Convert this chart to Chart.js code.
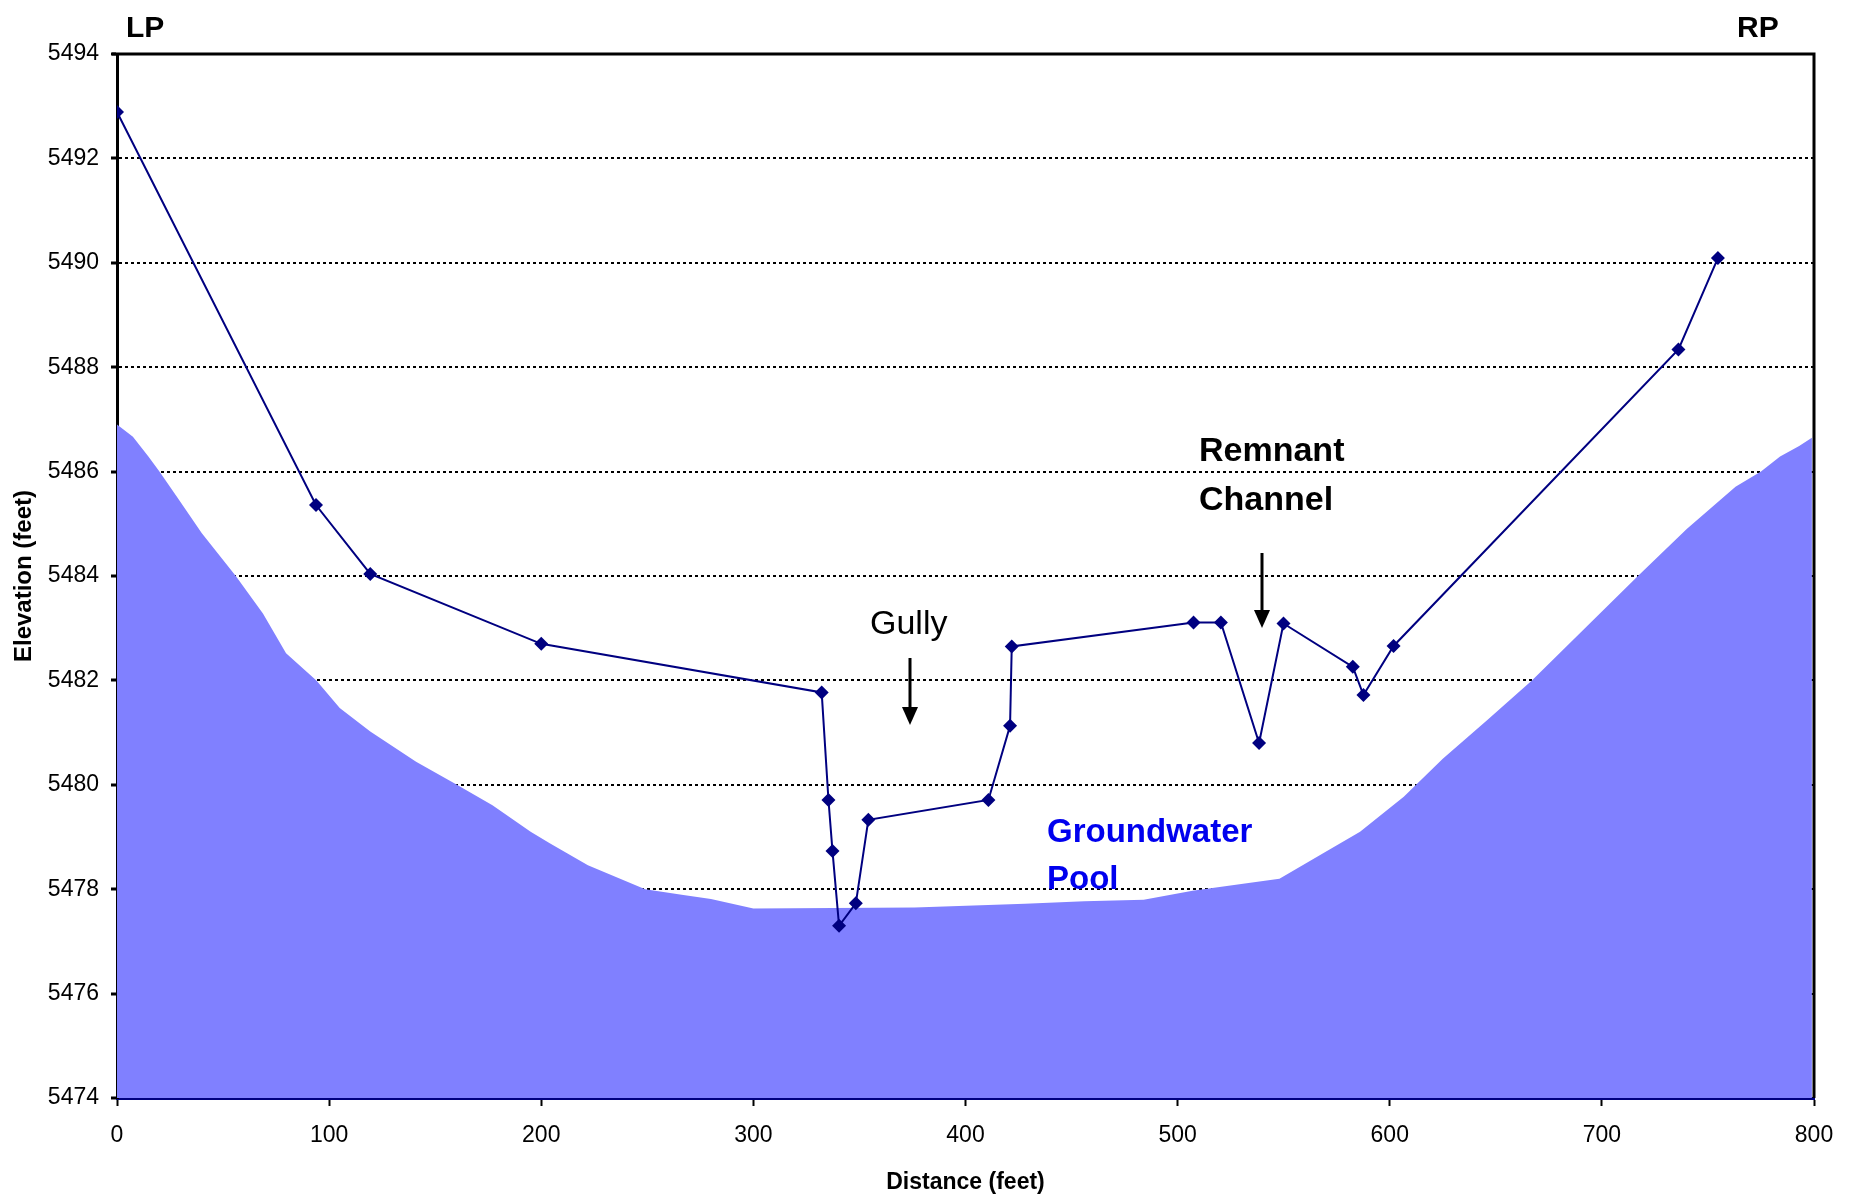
<!DOCTYPE html>
<html lang="en">
<head>
    <meta charset="UTF-8">
    <title>Cross Section</title>
    <script src="https://cdn.jsdelivr.net/npm/chart.js"></script>
    <style>
        html, body { margin: 0; padding: 0; background: #fff; }
        #wrap { width: 1853px; height: 1199px; position: relative; }
    </style>
</head>
<body>
    <div id="wrap"><canvas id="sezione"></canvas></div>

    <script>
        // surveyed ground profile
        const distanza = [0, 93.8, 119.4, 200, 332.2, 335.4, 337.3, 340.4, 348.3, 354.2, 410.8, 421, 421.8, 507.5, 520.4, 538.4, 549.9, 582.6, 587.6, 601.8, 736.1, 754.7];
        const quota = [5492.89, 5485.36, 5484.04, 5482.7, 5481.77, 5479.71, 5478.73, 5477.3, 5477.73, 5479.33, 5479.71, 5481.13, 5482.65, 5483.11, 5483.11, 5480.8, 5483.09, 5482.26, 5481.72, 5482.66, 5488.34, 5490.09];

        // groundwater pool surface
        const poolX = [0, 7.5, 14.8, 20, 29.2, 40, 56, 68.8, 79.7, 94, 105, 119.4, 141, 159, 177, 195, 204, 222, 249, 267, 280, 300, 376, 428, 456, 484, 507, 530, 548, 568.6, 586, 606.6, 625, 646, 667, 717, 740, 763, 775, 784, 793, 799];
        const poolY = [5486.9, 5486.67, 5486.29, 5486.0, 5485.46, 5484.82, 5484.0, 5483.28, 5482.52, 5482.0, 5481.47, 5481.02, 5480.44, 5480.03, 5479.61, 5479.1, 5478.88, 5478.46, 5478.0, 5477.89, 5477.81, 5477.63, 5477.65, 5477.72, 5477.77, 5477.8, 5477.97, 5478.1, 5478.2, 5478.69, 5479.1, 5479.77, 5480.5, 5481.24, 5482.0, 5484.0, 5484.9, 5485.71, 5486.0, 5486.29, 5486.49, 5486.65];

        const xMin = 0, xMax = 800, xStep = 100;
        const yMin = 5474, yMax = 5494, yStep = 2;

        const FONT = '"Liberation Sans", Arial, sans-serif';
        const NAVY = '#000080';

        const profilo = distanza.map((d, i) => ({ x: d, y: quota[i] }));
        const falda = poolX.map((d, i) => ({ x: d, y: poolY[i] }));

        function freccia(ctx, x, y1, y2) {
            ctx.save();
            ctx.strokeStyle = '#000';
            ctx.fillStyle = '#000';
            ctx.lineWidth = 3;
            ctx.beginPath();
            ctx.moveTo(x, y1);
            ctx.lineTo(x, y2 - 14);
            ctx.stroke();
            ctx.beginPath();
            ctx.moveTo(x - 8, y2 - 18);
            ctx.lineTo(x + 8, y2 - 18);
            ctx.lineTo(x, y2);
            ctx.closePath();
            ctx.fill();
            ctx.restore();
        }

        const annotazioni = {
            id: 'annotazioni',
            afterDraw(chart) {
                const ctx = chart.ctx;
                const a = chart.chartArea;
                ctx.save();
                // plot frame top and right
                ctx.strokeStyle = '#000';
                ctx.lineWidth = 3;
                ctx.beginPath();
                ctx.moveTo(a.left - 5, a.top);
                ctx.lineTo(a.right, a.top);
                ctx.lineTo(a.right, a.bottom);
                ctx.stroke();

                ctx.textBaseline = 'alphabetic';
                ctx.textAlign = 'left';
                ctx.fillStyle = '#000';
                ctx.font = 'bold 30px ' + FONT;
                ctx.fillText('LP', 126, 37);
                ctx.fillText('RP', 1737, 37);

                ctx.font = 'bold 34px ' + FONT;
                ctx.fillText('Remnant', 1199, 461);
                ctx.fillText('Channel', 1199, 510);

                ctx.font = '34px ' + FONT;
                ctx.fillText('Gully', 870, 634);

                ctx.fillStyle = '#0000ee';
                ctx.font = 'bold 33px ' + FONT;
                ctx.fillText('Groundwater', 1047, 842);
                ctx.fillText('Pool', 1047, 889);
                ctx.restore();

                freccia(ctx, 910, 658, 725);
                freccia(ctx, 1262, 553, 628);
            }
        };

        const ctx = document.getElementById('sezione').getContext('2d');
        const chart = new Chart(ctx, {
            type: 'line',
            data: {
                datasets: [{
                    label: 'Ground',
                    data: profilo,
                    borderColor: NAVY,
                    backgroundColor: NAVY,
                    borderWidth: 2,
                    pointStyle: 'rectRot',
                    pointRadius: 7,
                    pointBorderWidth: 0,
                    fill: false,
                    tension: 0
                }, {
                    label: 'Groundwater Pool',
                    data: falda,
                    borderWidth: 0,
                    borderColor: 'rgba(0,0,0,0)',
                    backgroundColor: '#8080ff',
                    pointRadius: 0,
                    fill: 'start',
                    tension: 0
                }]
            },
            options: {
                responsive: true,
                maintainAspectRatio: false,
                animation: false,
                layout: { padding: { top: 54, right: 39, left: 0, bottom: 0 } },
                plugins: {
                    legend: { display: false },
                    tooltip: { enabled: false }
                },
                scales: {
                    x: {
                        type: 'linear',
                        min: xMin,
                        max: xMax,
                        z: 1,
                        afterFit: s => { s.height = 101; },
                        ticks: {
                            stepSize: xStep,
                            padding: 16,
                            color: '#000',
                            font: { family: FONT, size: 23 },
                            callback: v => String(v)
                        },
                        grid: {
                            drawOnChartArea: false,
                            drawTicks: true,
                            tickLength: 8,
                            tickColor: '#000',
                            tickWidth: 2
                        },
                        border: { display: true, color: NAVY, width: 3 },
                        title: {
                            display: true,
                            text: 'Distance (feet)',
                            color: '#000',
                            font: { family: FONT, size: 23, weight: 'bold' },
                            padding: { top: 0, bottom: 3 }
                        }
                    },
                    y: {
                        min: yMin,
                        max: yMax,
                        z: 1,
                        afterFit: s => { s.width = 117; },
                        ticks: {
                            stepSize: yStep,
                            padding: 12,
                            color: '#000',
                            font: { family: FONT, size: 23 },
                            callback: v => String(v)
                        },
                        grid: {
                            color: '#000',
                            lineWidth: 2,
                            tickLength: 6,
                            tickColor: '#000',
                            tickWidth: 3,
                            tickBorderDash: []
                        },
                        border: { display: true, color: '#000', width: 3, dash: [3, 3] },
                        title: {
                            display: true,
                            text: 'Elevation (feet)',
                            color: '#000',
                            font: { family: FONT, size: 24, weight: 'bold' },
                            padding: { top: 10, bottom: 0 }
                        }
                    }
                }
            },
            plugins: [annotazioni]
        });
    </script>
</body>
</html>
